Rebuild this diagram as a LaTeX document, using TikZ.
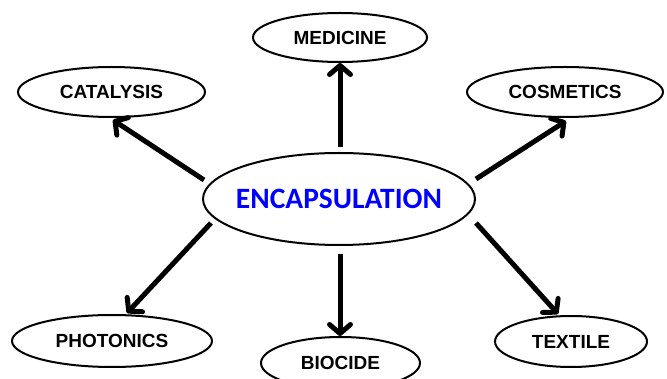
\documentclass[tikz,border=0pt]{standalone}
\usepackage{fontspec}
\setmainfont{Liberation Sans}
\newfontfamily\carl{Carlito}
\usetikzlibrary{shapes.geometric,arrows.meta}
\newcommand{\ctext}[1]{\makebox[0pt]{#1}}
\begin{document}
\begin{tikzpicture}[x=1pt,y=-1pt,
  oval/.style={ellipse,draw=black,line width=2pt,inner sep=0pt,
    font=\fontsize{19}{21}\selectfont\bfseries},
  arr/.style={line width=5pt,-{Straight Barb[length=9pt,width=21pt,round]}}]
\useasboundingbox (0,0) rectangle (667,379);
\node[oval,minimum width=272pt,minimum height=92pt,text=blue,
  font=\carl\fontsize{29.5}{31}\selectfont\bfseries] (enc) at (339,199) {\ctext{ENCAPSULATION}};
\node[oval,minimum width=174pt,minimum height=49pt] (med) at (340,37.5) {\ctext{MEDICINE}};
\node[oval,minimum width=187pt,minimum height=50pt] (cat) at (111.5,92) {\ctext{CATALYSIS}};
\node[oval,minimum width=196pt,minimum height=50pt] (cos) at (565,92) {\ctext{COSMETICS}};
\node[oval,minimum width=200pt,minimum height=52pt] (pho) at (112,341) {\ctext{PHOTONICS}};
\node[oval,minimum width=152pt,minimum height=51pt] (tex) at (571,341.5) {\ctext{TEXTILE}};
\node[oval,minimum width=159pt,minimum height=52pt] (bio) at (340.5,363) {\ctext{BIOCIDE}};
\draw[arr] ([shift={(-135,-19)}]enc.center) -- ([shift={(1.5,28)}]cat.center);
\draw[arr] ([shift={(137,-20)}]enc.center) -- ([shift={(1,29)}]cos.center);
\draw[arr] ([shift={(-128,24)}]enc.center) -- ([shift={(15,-28)}]pho.center);
\draw[arr] ([shift={(137,24)}]enc.center) -- ([shift={(-13,-27.5)}]tex.center);
\draw[arr] ([shift={(1,-52)}]enc.center) -- ([shift={(0,25.5)}]med.center);
\draw[arr] ([shift={(1,55)}]enc.center) -- ([shift={(-0.5,-27)}]bio.center);
\end{tikzpicture}
\end{document}
